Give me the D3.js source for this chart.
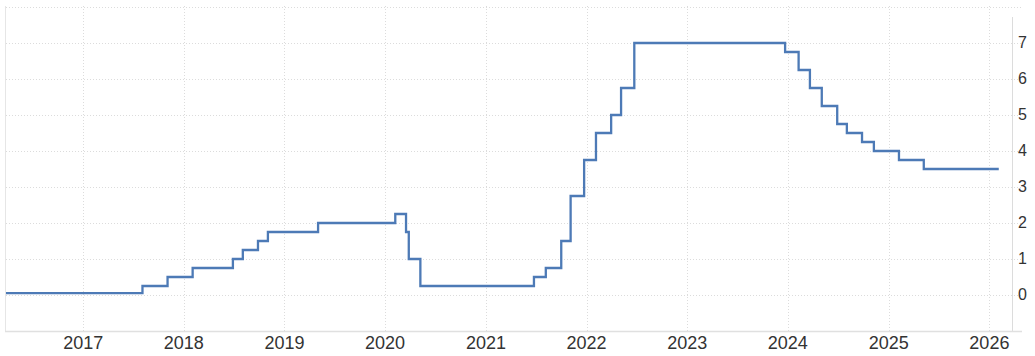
<!DOCTYPE html>
<html>
<head>
<meta charset="utf-8">
<script src="https://cdn.jsdelivr.net/npm/d3@7"></script>
<style>
	body { margin: 0; background: #fff; }
	text { font-family: "Liberation Sans", Arial, sans-serif; fill: #333; }
</style>
</head>
<body>
<svg id="chart"></svg>
<script>
// dates the rate changed, and the rate from that day on
const changeDates = ["2016-03-27", "2017-08-04", "2017-11-03", "2018-02-02", "2018-06-28",
	"2018-08-03", "2018-09-27", "2018-11-02", "2019-05-03", "2020-02-07", "2020-03-17",
	"2020-03-27", "2020-05-08", "2021-06-24", "2021-08-06", "2021-10-01", "2021-11-04",
	"2021-12-23", "2022-02-04", "2022-03-31", "2022-05-06", "2022-06-23", "2023-12-22",
	"2024-02-09", "2024-03-21", "2024-05-03", "2024-06-28", "2024-08-02", "2024-09-26",
	"2024-11-08", "2025-02-07", "2025-05-08", "2026-02-04"]
const rates = [0.05, 0.25, 0.5, 0.75, 1.0,
	1.25, 1.5, 1.75, 2.0, 2.25, 1.75,
	1.0, 0.25, 0.5, 0.75, 1.5, 2.75,
	3.75, 4.5, 5.0, 5.75, 7.0, 6.75,
	6.25, 5.75, 5.25, 4.75, 4.5, 4.25,
	4.0, 3.75, 3.5, 3.5]
const yearTicks = [2017, 2018, 2019, 2020, 2021, 2022, 2023, 2024, 2025, 2026]
const rateTicks = [0, 1, 2, 3, 4, 5, 6, 7]

const width = 1035, height = 356
const plotLeft = 6, plotRight = 1012, plotTop = 7, plotBottom = 331

const parse = d3.timeParse("%Y-%m-%d")
const data = changeDates.map((d, i) => ({ date: parse(d), rate: rates[i] }))

const svg = d3.select("#chart")
	.attr("width", width)
	.attr("height", height)

const x = d3.scaleTime()
	.domain([parse("2016-03-27"), parse("2026-03-24")])
	.range([plotLeft, plotRight])
const y = d3.scaleLinear()
	.domain([-1, 8])
	.range([plotBottom, plotTop])

// horizontal grid
svg.append("g")
	.selectAll("line")
	.data(rateTicks.concat([8]))
	.enter()
	.append("line")
	.attr("x1", plotLeft)
	.attr("x2", plotRight + 10)
	.attr("y1", d => Math.round(y(d)) + 0.5)
	.attr("y2", d => Math.round(y(d)) + 0.5)
	.attr("stroke", "#dcdcdc")
	.attr("stroke-dasharray", "1,2")

// vertical grid
svg.append("g")
	.selectAll("line")
	.data(yearTicks)
	.enter()
	.append("line")
	.attr("x1", d => Math.round(x(new Date(d, 0, 1))) + 0.5)
	.attr("x2", d => Math.round(x(new Date(d, 0, 1))) + 0.5)
	.attr("y1", plotTop - 1)
	.attr("y2", plotBottom)
	.attr("stroke", "#dcdcdc")
	.attr("stroke-dasharray", "1,2")

// frame lines
svg.append("line")
	.attr("x1", plotLeft - 0.5).attr("x2", plotLeft - 0.5)
	.attr("y1", plotTop - 1).attr("y2", plotBottom)
	.attr("stroke", "#e6e6e6")
svg.append("line")
	.attr("x1", plotRight + 0.5).attr("x2", plotRight + 0.5)
	.attr("y1", plotTop + 10).attr("y2", plotBottom)
	.attr("stroke", "#dcdcdc")
svg.append("line")
	.attr("x1", plotLeft - 1).attr("x2", plotRight + 10)
	.attr("y1", plotBottom + 0.5).attr("y2", plotBottom + 0.5)
	.attr("stroke", "#e0e0e0")
	.attr("stroke-width", 1.5)

// year labels
svg.append("g")
	.selectAll("text")
	.data(yearTicks)
	.enter()
	.append("text")
	.attr("x", d => x(new Date(d, 0, 1)))
	.attr("y", 349)
	.attr("text-anchor", "middle")
	.style("font-size", "18px")
	.text(d => d)

// rate labels
svg.append("g")
	.selectAll("text")
	.data(rateTicks)
	.enter()
	.append("text")
	.attr("x", 1018)
	.attr("y", d => y(d) + 5)
	.style("font-size", "16px")
	.text(d => d)

// the step line
const line = d3.line()
	.x(d => x(d.date))
	.y(d => y(d.rate))
	.curve(d3.curveStepAfter)
svg.append("path")
	.datum(data)
	.attr("fill", "none")
	.attr("stroke", "#4d7ab6")
	.attr("stroke-width", 2.3)
	.attr("d", line)
</script>
</body>
</html>
